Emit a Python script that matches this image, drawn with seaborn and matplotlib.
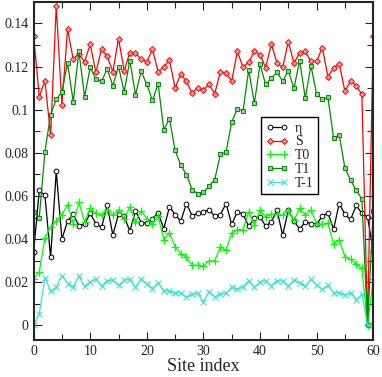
import matplotlib
matplotlib.use("Agg")
import matplotlib.pyplot as plt
import seaborn as sns

# Data
site = list(range(61))

eta = [0.0341, 0.0626, 0.0603, 0.0315, 0.0714, 0.0400, 0.0484, 0.0515, 0.0463, 0.0469,
       0.0519, 0.0472, 0.0454, 0.0557, 0.0419, 0.0515, 0.0506, 0.0437, 0.0531, 0.0477,
       0.0475, 0.0495, 0.0521, 0.0449, 0.0549, 0.0514, 0.0483, 0.0565, 0.0509, 0.0519,
       0.0525, 0.0537, 0.0506, 0.0514, 0.0565, 0.0468, 0.0528, 0.0515, 0.0460, 0.0497,
       0.0503, 0.0460, 0.0480, 0.0534, 0.0418, 0.0534, 0.0484, 0.0447, 0.0480, 0.0472,
       0.0469, 0.0506, 0.0521, 0.0446, 0.0565, 0.0515, 0.0491, 0.0556, 0.0519, 0.0503,
       0.0344]

s_vals = [0.1344, 0.1061, 0.1134, 0.0882, 0.1480, 0.1023, 0.1373, 0.1234, 0.1259, 0.1222,
          0.1304, 0.1173, 0.1281, 0.1247, 0.1176, 0.1330, 0.1180, 0.1265, 0.1262, 0.1234,
          0.1222, 0.1281, 0.1176, 0.1197, 0.1231, 0.1100, 0.1167, 0.1131, 0.1077, 0.1102,
          0.1093, 0.1117, 0.1075, 0.1177, 0.1169, 0.1134, 0.1270, 0.1197, 0.1220, 0.1270,
          0.1256, 0.1195, 0.1306, 0.1216, 0.1197, 0.1315, 0.1216, 0.1264, 0.1270, 0.1224,
          0.1224, 0.1288, 0.1154, 0.1193, 0.1213, 0.1085, 0.1134, 0.1112, 0.1071, 0.0,
          0.1344]

t0 = [0.0213, 0.0248, 0.0407, 0.0456, 0.0484, 0.0514, 0.0560, 0.0472, 0.0571, 0.0480,
      0.0542, 0.0521, 0.0511, 0.0537, 0.0511, 0.0537, 0.0495, 0.0549, 0.0480, 0.0531,
      0.0495, 0.0469, 0.0506, 0.0398, 0.0429, 0.0364, 0.0333, 0.0315, 0.0279, 0.0279,
      0.0275, 0.0299, 0.0299, 0.0364, 0.0349, 0.0429, 0.0444, 0.0444, 0.0526, 0.0464,
      0.0534, 0.0503, 0.0515, 0.0515, 0.0511, 0.0531, 0.0488, 0.0542, 0.0511, 0.0534,
      0.0472, 0.0469, 0.0475, 0.0376, 0.0398, 0.0318, 0.0306, 0.0284, 0.0264, 0.0,
      0.0213]

t1 = [0.0528, 0.0500, 0.0806, 0.0977, 0.1048, 0.1083, 0.1216, 0.1037, 0.1271, 0.1060,
      0.1196, 0.1142, 0.1131, 0.1190, 0.1111, 0.1200, 0.1083, 0.1228, 0.1069, 0.1179,
      0.1117, 0.1043, 0.1120, 0.0907, 0.0958, 0.0812, 0.0743, 0.0699, 0.0630, 0.0610,
      0.0617, 0.0646, 0.0676, 0.0793, 0.0804, 0.0943, 0.1005, 0.0994, 0.1185, 0.1029,
      0.1210, 0.1117, 0.1146, 0.1173, 0.1133, 0.1180, 0.1100, 0.1227, 0.1054, 0.1205,
      0.1072, 0.1049, 0.1057, 0.0870, 0.0882, 0.0730, 0.0673, 0.0626, 0.0586, 0.0,
      0.0529]

tm1 = [0.0, 0.0052, 0.0222, 0.0160, 0.0176, 0.0231, 0.0194, 0.0179, 0.0228, 0.0182,
       0.0202, 0.0216, 0.0182, 0.0207, 0.0210, 0.0185, 0.0210, 0.0213, 0.0177, 0.0213,
       0.0194, 0.0171, 0.0197, 0.0160, 0.0160, 0.0151, 0.0151, 0.0130, 0.0145, 0.0148,
       0.0109, 0.0156, 0.0132, 0.0145, 0.0148, 0.0176, 0.0167, 0.0179, 0.0207, 0.0176,
       0.0202, 0.0207, 0.0182, 0.0207, 0.0207, 0.0182, 0.0210, 0.0197, 0.0182, 0.0213,
       0.0187, 0.0167, 0.0185, 0.0151, 0.0151, 0.0139, 0.0151, 0.0117, 0.0145, 0.0,
       0.0]

labels = ['\u03b7', 'S', 'T0', 'T1', 'T-1']
xticks = [0, 10, 20, 30, 40, 50, 60]
yticks = [0, 0.02, 0.04, 0.06, 0.08, 0.1, 0.12, 0.14]
ytick_labels = ['0', '0.02', '0.04', '0.06', '0.08', '0.1', '0.12', '0.14']

sns.set_style('ticks')
plt.rcParams['font.family'] = ['Liberation Serif', 'DejaVu Serif']

fig, ax = plt.subplots(figsize=(3.82, 3.77), dpi=100)
fig.subplots_adjust(left=0.088, right=0.977, top=0.995, bottom=0.098)

styles = [
    dict(color='black', marker='o', ms=3.4, mfc='white', mec='black', mew=0.7),
    dict(color='red', marker='D', ms=3.0, mfc='#ff9a9a', mec='red', mew=0.7),
    dict(color='#00ff00', marker='+', ms=5.5, mfc='#00ff00', mec='#00ff00', mew=0.9),
    dict(color='#008b00', marker='s', ms=3.0, mfc='#8fd08f', mec='#008b00', mew=0.7),
    dict(color='#40e0d0', marker='x', ms=4.0, mfc='#40e0d0', mec='#40e0d0', mew=0.8),
]
series = [eta, s_vals, t0, t1, tm1]

for vals, lab, st in zip(series, labels, styles):
    sns.lineplot(x=site, y=vals, ax=ax, label=lab, linewidth=0.9,
                 color=st['color'], marker=st['marker'], markersize=st['ms'],
                 markerfacecolor=st['mfc'], markeredgecolor=st['mec'],
                 markeredgewidth=st['mew'])

ax.set_xlim(0, 60)
ax.set_ylim(-0.0068, 0.15)
ax.set_xticks(xticks)
ax.set_xticks(range(5, 60, 10), minor=True)
ax.set_yticks(yticks)
ax.set_yticklabels(ytick_labels)
ax.set_yticks([0.01, 0.03, 0.05, 0.07, 0.09, 0.11, 0.13], minor=True)
ax.tick_params(which='both', direction='in', top=True, right=True, labelsize=10, width=0.8)
ax.tick_params(which='major', length=6)
ax.tick_params(which='minor', length=4)
for sp in ax.spines.values():
    sp.set_linewidth(1.5)
ax.set_xlabel('Site index', fontsize=13, labelpad=0)
ax.set_ylabel('')

leg = ax.legend(loc='upper left', bbox_to_anchor=(0.669, 0.66), borderaxespad=0,
                numpoints=2, fontsize=10, labelspacing=0.05, borderpad=0.35,
                handlelength=1.6, handletextpad=0.5, fancybox=False,
                edgecolor='black', framealpha=1)
leg.get_frame().set_linewidth(1.0)

fig.savefig('out.png', dpi=100)
